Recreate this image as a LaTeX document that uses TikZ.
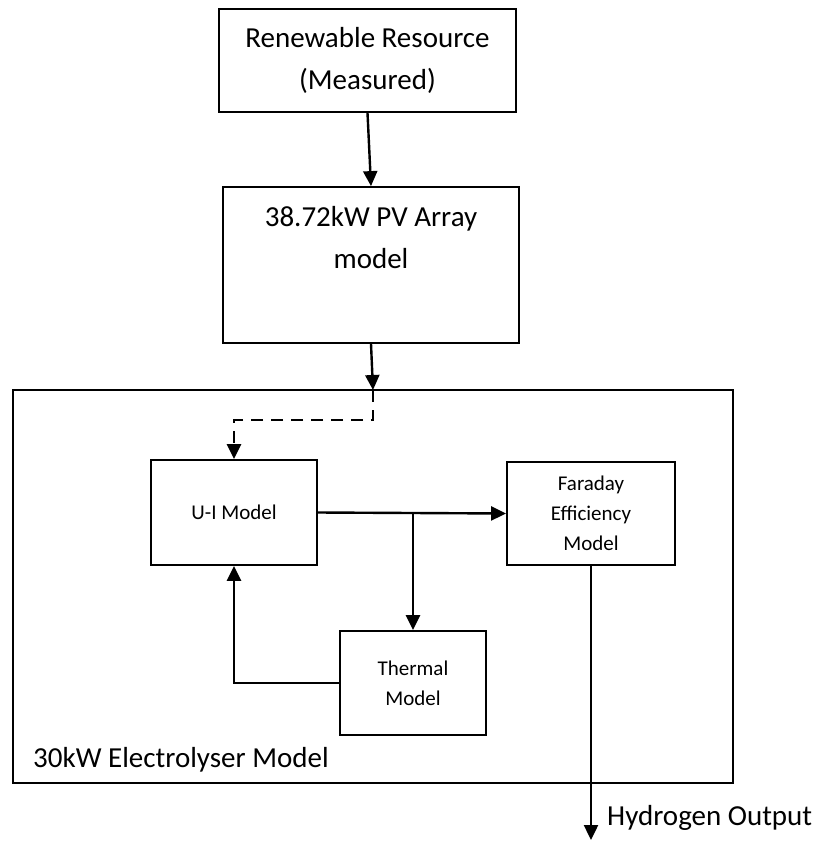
\documentclass[tikz,border=0pt]{standalone}
\usepackage{fontspec}
\setmainfont{Carlito}
\usetikzlibrary{arrows.meta}
\newcommand{\bigtxt}{\fontsize{29}{42}\selectfont}
\newcommand{\smalltxt}{\fontsize{21}{30}\selectfont}

\begin{document}
\begin{tikzpicture}[x=1pt, y=-1pt, >={Triangle[length=15pt, width=14pt]},
    block/.style={draw, line width=1.8pt, inner sep=0pt, align=center},
    flow/.style={->, line width=2.4pt}]
    \useasboundingbox (0,0) rectangle (818,843);

    % Source and PV array
    \node[block, minimum width=297pt, minimum height=103pt, font=\bigtxt] (res) at (367.5,60.5) {Renewable Resource\\(Measured)};
    \node[block, minimum width=296pt, minimum height=156pt] (pv) at (371,265) {};
    \node[anchor=north, inner sep=0pt, align=center, font=\bigtxt] (pvtext) at (371,206) {38.72kW PV Array\\model};

    % Electrolyser
    \node[block, minimum width=720pt, minimum height=393pt] (elec) at (373,586.5) {};
    \node[anchor=base west, inner sep=0pt, font=\bigtxt] (eleclabel) at (33,767) {30kW Electrolyser Model};
    \node[block, minimum width=166pt, minimum height=105pt, font=\smalltxt] (ui) at (234,512.5) {U-I Model};
    \node[block, minimum width=168pt, minimum height=103pt, font=\smalltxt] (far) at (591,513.5) {Faraday\\Efficiency\\Model};
    \node[block, minimum width=146pt, minimum height=104pt, font=\smalltxt] (therm) at (413,683) {Thermal\\Model};

    % Connectors
    \coordinate (inpt) at (373,390);
    \coordinate (split) at (413,513);
    \coordinate (h2) at (591,840);
    \draw[flow] (res.south) -- (pv.north);
    \draw[flow] (pv.south) -- (inpt);
    \draw[flow, dash pattern=on 12pt off 8pt] (inpt) -- ++(0,30) -| (ui.north);
    \draw[flow] (ui.east) -- (far.west);
    \draw[flow] (split) -- (therm.north);
    \draw[flow] (therm.west) -| (ui.south);
    \draw[flow] (far.south) -- (h2);
    \node[anchor=base west, inner sep=0pt, font=\bigtxt] (h2label) at (607,825) {Hydrogen Output};
\end{tikzpicture}
\end{document}
